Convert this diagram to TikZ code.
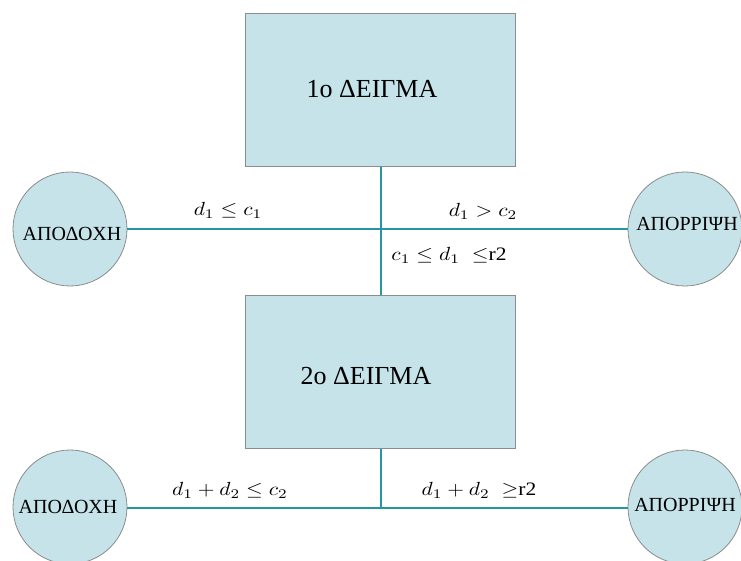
\documentclass[tikz,border=0pt]{standalone}
\usepackage{amssymb}
\usepackage{fontspec}
\setmainfont{Liberation Serif}
\definecolor{boxfill}{RGB}{197,227,232}
\definecolor{boxline}{RGB}{140,140,140}
\definecolor{teal1}{RGB}{38,150,165}
\begin{document}
\begin{tikzpicture}[x=1pt,y=-1pt,
  sample/.style={draw=boxline,fill=boxfill,line width=1pt,minimum width=270pt,minimum height=153pt,inner sep=0pt},
  sampletext/.style={font=\fontsize{26}{28}\selectfont,inner sep=0pt},
  verdict/.style={circle,draw=boxline,fill=boxfill,line width=0.8pt,minimum size=114pt,inner sep=0pt},
  verdicttext/.style={font=\fontsize{20}{22}\selectfont,inner sep=0pt},
  conn/.style={draw=teal1,line width=2.2pt},
  lab/.style={inner sep=0pt,xscale=2.15,yscale=1.9,transform shape}]
\useasboundingbox (0,0) rectangle (741,561);
\node[sample] (s1) at (380,90.5) {};
\node[sample] (s2) at (380,371.5) {};
\node[sampletext] (t1) at (372,89) {1o ΔΕΙΓΜΑ};
\node[sampletext] (t2) at (366,376) {2o ΔΕΙΓΜΑ};
\coordinate (j1) at (381,229);
\coordinate (j2) at (381,508);
\node[verdict] (a1) at (70,229) {};
\node[verdict] (r1) at (685,229) {};
\node[verdict] (a2) at (70,507) {};
\node[verdict] (r2) at (685,507) {};
\draw[conn] (s1.south -| j1) -- (s2.north -| j1);
\draw[conn] (a1.east |- j1) -- (r1.west |- j1);
\draw[conn] (s2.south -| j2) -- (j2);
\draw[conn] (a2.east |- j2) -- (r2.west |- j2);
\node[verdicttext] (at1) at (72,234) {ΑΠΟΔΟΧΗ};
\node[verdicttext] (rt1) at (687,224) {ΑΠΟΡΡΙΨΗ};
\node[verdicttext] (at2) at (68,507) {ΑΠΟΔΟΧΗ};
\node[verdicttext] (rt2) at (685,505) {ΑΠΟΡΡΙΨΗ};
\node[lab] (l1) at (228,210) {$d_1 \leq c_1$};
\node[lab] (l2) at (483,211) {$d_1 > c_2$};
\node[lab] (l3) at (449,255) {$c_1 \leq d_1\;\leq$r2};
\node[lab] (l4) at (230,490) {$d_1 + d_2 \leq c_2$};
\node[lab] (l5) at (479,490) {$d_1 + d_2\;\geq$r2};
\end{tikzpicture}
\end{document}
